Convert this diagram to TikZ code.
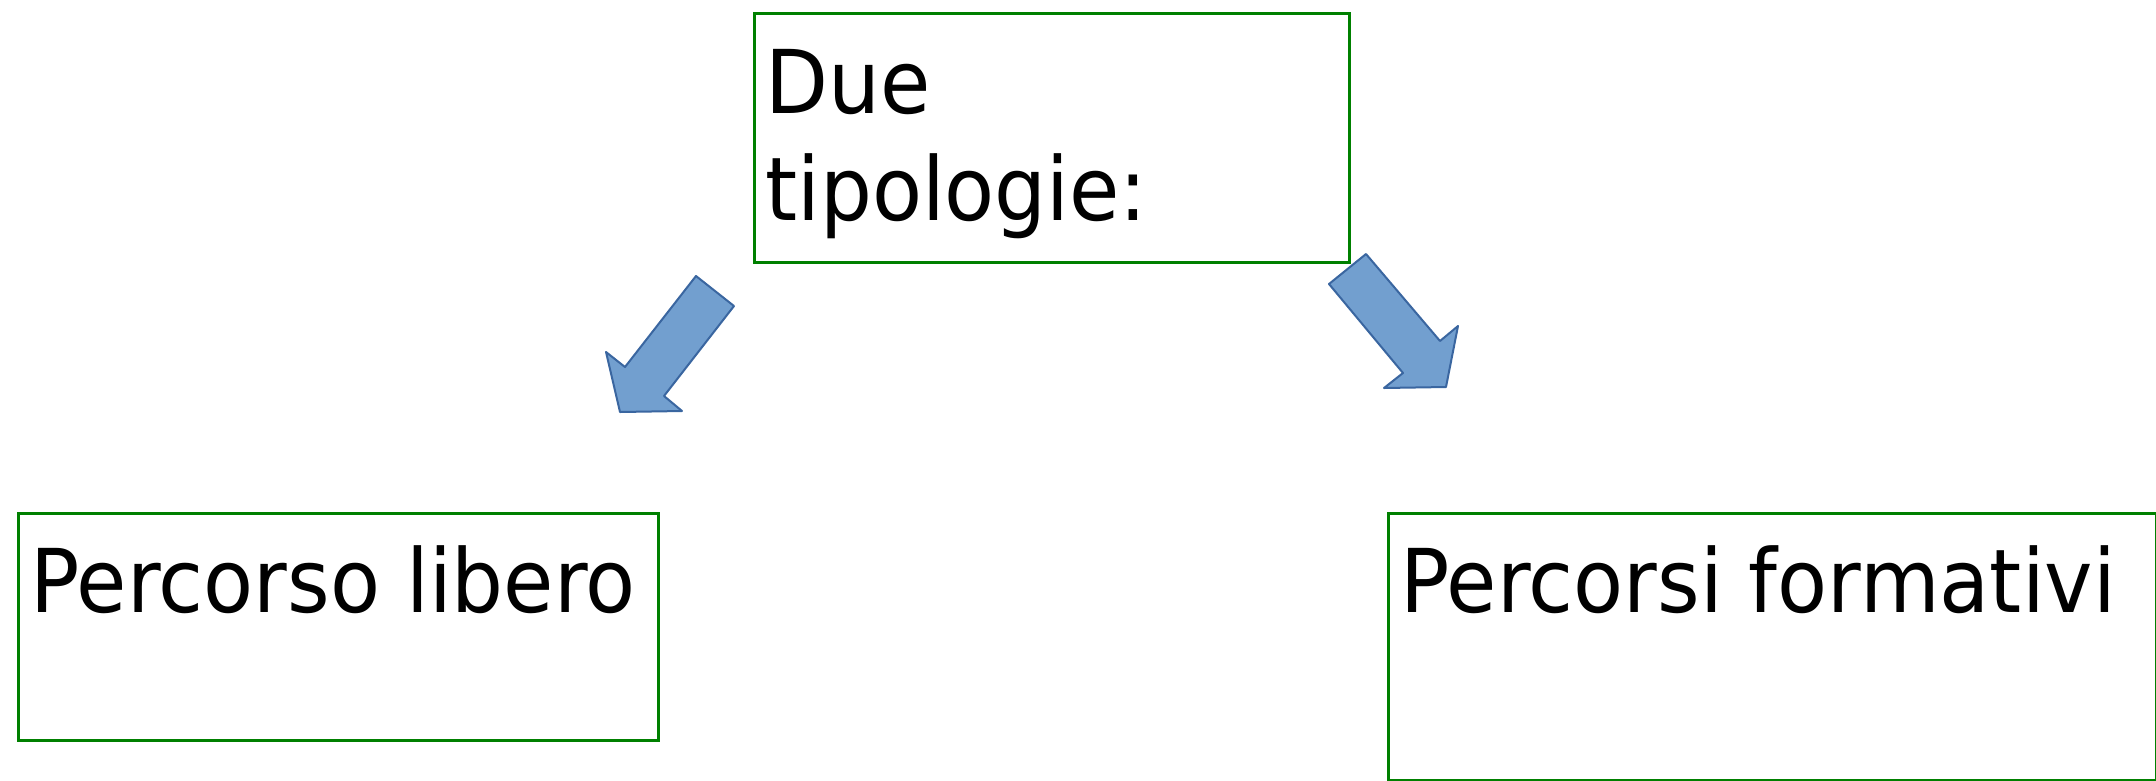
\documentclass[tikz,border=0pt]{standalone}
\usepackage{fontspec}
\newfontfamily\diagfont[FakeStretch=0.93]{DejaVu Sans}
\definecolor{boxgreen}{RGB}{0,128,0}
\definecolor{arrowfill}{RGB}{114,159,207}
\definecolor{arrowdraw}{RGB}{58,102,160}
\begin{document}
\begin{tikzpicture}[x=1pt,y=-1pt,
  framebox/.style={draw=boxgreen,line width=3pt,rectangle,inner sep=0pt,anchor=north west},
  label/.style={font=\diagfont\fontsize{88}{107}\selectfont,inner sep=0pt,anchor=base west,align=left,text=black},
  blockarrow/.style={fill=arrowfill,draw=arrowdraw,line width=2pt,line join=round}]
\useasboundingbox (0,0) rectangle (2156,780);
% boxes
\node[framebox,minimum width=595pt,minimum height=249pt] (topbox) at (753,12) {};
\node[framebox,minimum width=640pt,minimum height=227pt] (leftbox) at (17,512) {};
\node[framebox,minimum width=768pt,minimum height=267pt] (rightbox) at (1387,512) {};
% texts
\node[label] (toptext) at (765,220) {Due\\tipologie:};
\node[label] (lefttext) at (30,612) {Percorso libero};
\node[label] (righttext) at (1400,612) {Percorsi formativi};
% block arrows
\coordinate (la1) at (696,276);
\coordinate (la2) at (734,306);
\coordinate (la3) at (664,396);
\coordinate (la4) at (682,411);
\coordinate (la5) at (620,412);
\coordinate (la6) at (606,352);
\coordinate (la7) at (625,367);
\draw[blockarrow] (la1) -- (la2) -- (la3) -- (la4) -- (la5) -- (la6) -- (la7) -- cycle;
\coordinate (ra1) at (1329,284);
\coordinate (ra2) at (1366,254);
\coordinate (ra3) at (1440,341);
\coordinate (ra4) at (1458,326);
\coordinate (ra5) at (1446,387);
\coordinate (ra6) at (1384,388);
\coordinate (ra7) at (1403,373);
\draw[blockarrow] (ra1) -- (ra2) -- (ra3) -- (ra4) -- (ra5) -- (ra6) -- (ra7) -- cycle;
\end{tikzpicture}
\end{document}
